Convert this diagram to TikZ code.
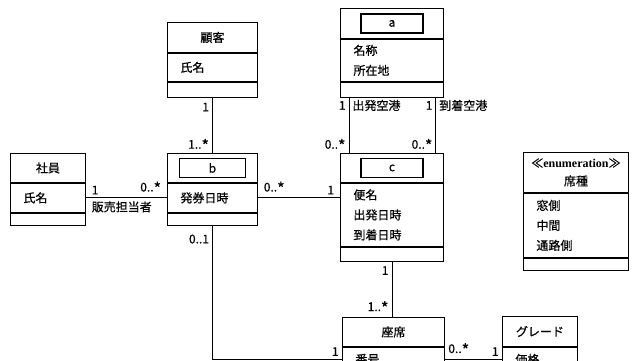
\documentclass[tikz,border=0pt]{standalone}
\usepackage{fontspec}
\setmainfont{Noto Sans CJK JP}[FakeBold=0.6]
\newfontfamily\latinserif{Liberation Serif}
\usetikzlibrary{positioning}

\newcommand\many{\raisebox{-0.45ex}{\fontsize{16}{16}\selectfont *}}

\begin{document}
\begin{tikzpicture}[
    x=1pt, y=-1pt,
    line width=0.9pt,
    font=\fontsize{12}{20}\selectfont,
    head/.style={draw, minimum width=#1, minimum height=29pt, inner sep=0pt},
    attrs/.style={draw, text width=#1, inner xsep=13pt, inner ysep=0pt, align=left},
    ops/.style={draw, minimum width=#1, minimum height=13pt, inner sep=0pt},
    namebox/.style={draw, line width=1.8pt, minimum width=#1, minimum height=19pt, inner sep=0pt},
    mult/.style={inner sep=3pt, font=\fontsize{12}{14}\selectfont},
    role/.style={inner sep=3pt, font=\fontsize{12}{14}\selectfont}
  ]
  \useasboundingbox (0,0) rectangle (640,360);
  \clip (0,0) rectangle (640,360);

  % classes
  \node[head=90pt, minimum height=30pt, anchor=north west] (kokyaku) at (167,22) {顧客};
  \node[attrs=64pt, minimum height=28pt, below=0pt of kokyaku] (kokyaku-attr) {氏名};
  \node[ops=90pt, minimum height=15pt, below=0pt of kokyaku-attr] (kokyaku-ops) {};

  \node[head=75pt, anchor=north west] (shain) at (10,153) {社員};
  \node[attrs=49pt, minimum height=29pt, below=0pt of shain] (shain-attr) {氏名};
  \node[ops=75pt, minimum height=12pt, below=0pt of shain-attr] (shain-ops) {};

  \node[head=90pt, anchor=north west] (hakken) at (167,153) {};
  \node[namebox=66pt] (hakken-name) at (hakken) {b};
  \node[attrs=64pt, minimum height=29pt, below=0pt of hakken] (hakken-attr) {発券日時};
  \node[ops=90pt, minimum height=12pt, below=0pt of hakken-attr] (hakken-ops) {};

  \node[head=103pt, minimum height=30pt, anchor=north west] (kuko) at (340,8) {};
  \node[namebox=62pt] (kuko-name) at (kuko) {a};
  \node[attrs=77pt, minimum height=42pt, below=0pt of kuko] (kuko-attr) {名称\\所在地};
  \node[ops=103pt, minimum height=15pt, below=0pt of kuko-attr] (kuko-ops) {};

  \node[head=103pt, anchor=north west] (bin) at (340,153) {};
  \node[namebox=62pt] (bin-name) at (bin) {c};
  \node[attrs=77pt, minimum height=63pt, below=0pt of bin] (bin-attr) {便名\\出発日時\\到着日時};
  \node[ops=103pt, minimum height=14pt, below=0pt of bin-attr] (bin-ops) {};

  \node[head=105pt, minimum height=40pt, anchor=north west, align=center,
    font=\fontsize{12}{18}\selectfont] (sekishu) at (523,152)
    {≪{\latinserif\bfseries enumeration}≫\\席種};
  \node[attrs=79pt, minimum height=64pt, below=0pt of sekishu] (sekishu-attr) {窓側\\中間\\通路側};
  \node[ops=105pt, minimum height=12pt, below=0pt of sekishu-attr] (sekishu-ops) {};

  \node[head=102pt, anchor=north west] (zaseki) at (342,317) {座席};
  \node[attrs=76pt, minimum height=24pt, below=0pt of zaseki] (zaseki-attr) {番号};

  \node[head=75pt, minimum height=30pt, anchor=north west] (grade) at (502,316) {グレード};
  \node[attrs=49pt, minimum height=24pt, below=0pt of grade] (grade-attr) {価格};

  % associations
  \draw (kokyaku-ops) -- node[mult, pos=0.17, left] {1} node[mult, pos=0.86, left] {1..\many} (hakken);
  \draw (shain-attr) -- node[mult, pos=0.03, above right] {1}
    node[role, pos=0.03, below right] {販売担当者}
    node[mult, pos=0.97, above left] {0..\many} (hakken-attr);
  \draw (hakken-attr.east) -- node[mult, pos=0.03, above right] {0..\many}
    node[mult, pos=0.97, above left] {1} (hakken-attr.east -| bin-attr.west);
  \draw ([xshift=9pt]kuko-ops.south west) -- node[mult, pos=0.14, left] {1}
    node[role, pos=0.14, right] {出発空港}
    node[mult, pos=0.86, left] {0..\many} ([xshift=9pt]bin.north west);
  \draw ([xshift=-8pt]kuko-ops.south east) -- node[mult, pos=0.14, left] {1}
    node[role, pos=0.14, right] {到着空港}
    node[mult, pos=0.86, left] {0..\many} ([xshift=-8pt]bin.north east);
  \draw (bin-ops.south) -- node[mult, pos=0.16, left] {1}
    node[mult, pos=0.83, left] {1..\many} (bin-ops.south |- zaseki.north);
  \draw (hakken-ops.south) |- node[mult, pos=0.05, left] {0..1}
    node[mult, pos=1, above left] {1} (zaseki-attr.west);
  \draw (zaseki-attr) -- node[mult, pos=0, above right] {0..\many}
    node[mult, pos=1, above left] {1} (grade-attr);
\end{tikzpicture}
\end{document}
